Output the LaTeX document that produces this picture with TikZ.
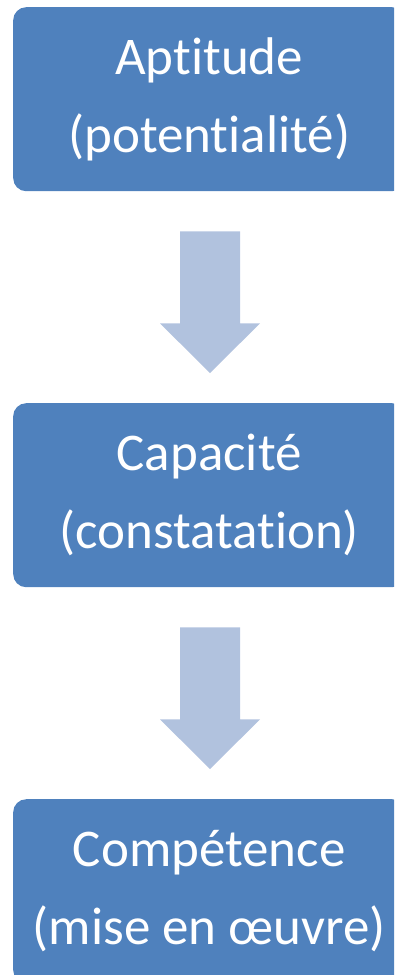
\documentclass[tikz,border=0pt]{standalone}
\usepackage{fontspec}
\setmainfont[Ligatures={NoCommon}]{Carlito}
\definecolor{boxblue}{HTML}{4F81BD}
\definecolor{arrowblue}{HTML}{B1C2DE}
\tikzset{
  stagebox/.style={draw=none, fill=boxblue, rounded corners=13pt, minimum width=392pt, minimum height=184pt,
    anchor=north west, inner sep=0pt, align=center, text=white, font=\fontsize{53}{78}\selectfont},
  flowarrow/.style={fill=arrowblue, draw=none}
}
\begin{document}
\begin{tikzpicture}[x=1pt,y=1pt]
\useasboundingbox (0,0) rectangle (394,-975);
\begin{scope}
\clip (0,0) rectangle (394,-975);
\node[stagebox] (b1) at (13,-7) {Aptitude\\(potentialité)};
\node[stagebox] (b2) at (13,-403) {Capacité\\(constatation)};
\node[stagebox] (b3) at (13,-799) {Compétence\\(mise en œuvre)};
\end{scope}
% arrow 1
\coordinate (a1) at ([yshift=-40pt]b1.south -| 210,0);
\coordinate (t1) at ([yshift=30pt]b2.north -| a1);
\fill[flowarrow] ([xshift=-30pt]a1) -- ([xshift=30pt]a1) -- ++(0,-92) -- ++(20,0)
  -- (t1) -- ([xshift=-50pt,yshift=-92pt]a1) -- ([xshift=-30pt,yshift=-92pt]a1) -- cycle;
% arrow 2
\coordinate (a2) at ([yshift=-40pt]b2.south -| 210,0);
\coordinate (t2) at ([yshift=30pt]b3.north -| a2);
\fill[flowarrow] ([xshift=-30pt]a2) -- ([xshift=30pt]a2) -- ++(0,-92) -- ++(20,0)
  -- (t2) -- ([xshift=-50pt,yshift=-92pt]a2) -- ([xshift=-30pt,yshift=-92pt]a2) -- cycle;
\end{tikzpicture}
\end{document}
